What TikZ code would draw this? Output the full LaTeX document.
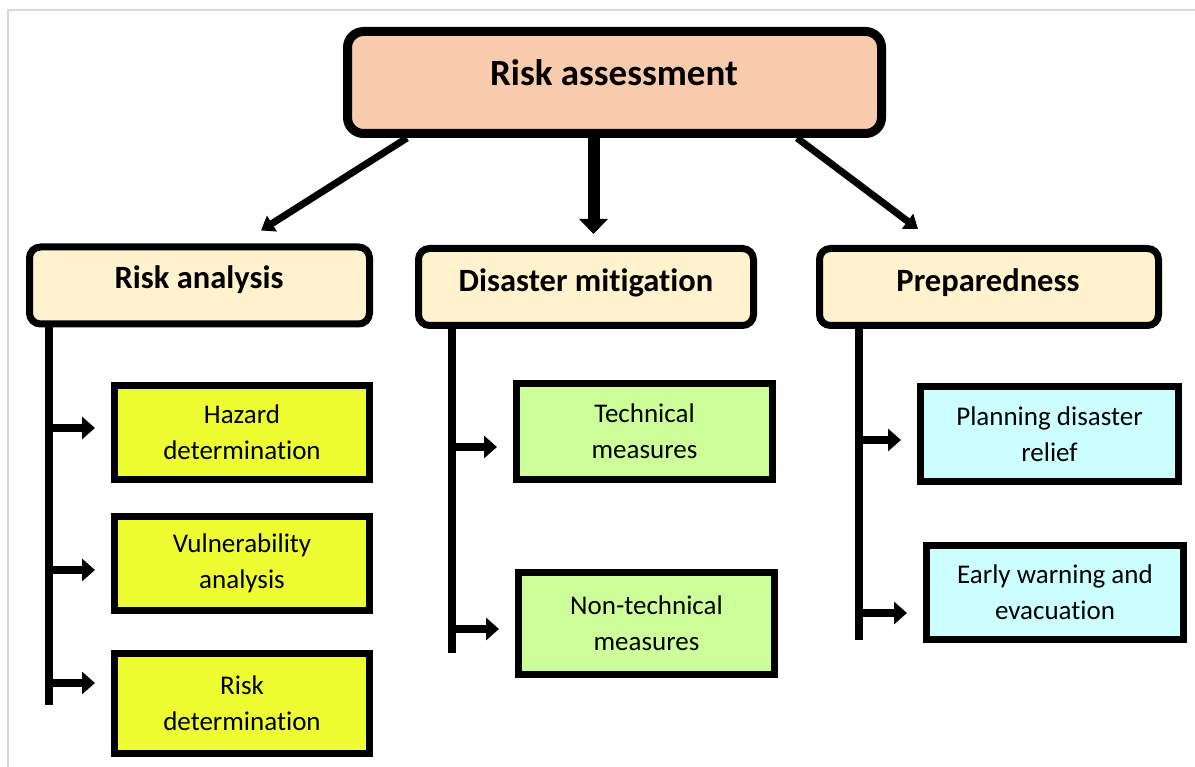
\documentclass[tikz,border=0pt]{standalone}
\usepackage{fontspec}
\setmainfont[RawFeature={-liga;-clig;-calt}]{Carlito}
\usetikzlibrary{arrows.meta}

\definecolor{topfill}{HTML}{F8CBAD}
\definecolor{headfill}{HTML}{FFF2CC}
\definecolor{yellowfill}{HTML}{EEFC32}
\definecolor{greenfill}{HTML}{CCFF99}
\definecolor{cyanfill}{HTML}{CCFFFF}
\definecolor{framegray}{HTML}{D9D9D9}

\tikzset{
  rootbox/.style={draw=black, line width=9pt, fill=topfill, rounded corners=16pt,
    inner sep=0pt, minimum width=534pt, minimum height=102pt},
  headbox/.style={draw=black, line width=7pt, fill=headfill, rounded corners=11pt,
    inner sep=0pt, minimum height=77pt},
  leafbox/.style={draw=black, line width=7pt, inner sep=0pt, align=center,
    font=\fontsize{27}{36}\selectfont},
  roottext/.style={font=\fontsize{37}{40}\selectfont\bfseries, inner sep=0pt},
  headtext/.style={font=\fontsize{32.5}{36}\selectfont\bfseries, inner sep=0pt},
  trunk/.style={line width=8pt},
  branch/.style={line width=8.5pt, -{Triangle[length=13pt,width=22pt]}, shorten >=16pt},
  diag/.style={line width=7pt, -{Triangle[length=13pt,width=18pt]}},
  vert/.style={line width=12pt, -{Triangle[length=15pt,width=28pt]}},
}

\begin{document}
\begin{tikzpicture}[x=1pt, y=-1pt]
  \useasboundingbox (0,0) rectangle (1195,767);
  \fill[white] (0,0) rectangle (1195,767);

  % thin frame along the top and left
  \draw[framegray, line width=1.5pt] (8,767) -- (8,10) -- (1195,10);

  % root
  \node[rootbox] (root) at (614.5,82.5) {};
  \node[roottext] (roott) at (614,73) {Risk assessment};

  % second level
  \node[headbox, minimum width=340pt] (ra) at (199.5,285.5) {};
  \node[headtext] (rat) at (199,280) {Risk analysis};
  \node[headbox, minimum width=335pt] (dm) at (586,287) {};
  \node[headtext] (dmt) at (586,283) {Disaster mitigation};
  \node[headbox, minimum width=339pt] (pr) at (989,287) {};
  \node[headtext] (prt) at (988,283) {Preparedness};

  % leaves
  \node[leafbox, fill=yellowfill, minimum width=255pt, minimum height=94pt] (hz) at (242,432.5) {Hazard\\determination};
  \node[leafbox, fill=yellowfill, minimum width=255pt, minimum height=94pt] (vu) at (242,563.5) {Vulnerability\\analysis};
  \node[leafbox, fill=yellowfill, minimum width=255pt, minimum height=100pt] (rd) at (242,703.5) {Risk\\determination};
  \node[leafbox, fill=greenfill, minimum width=256pt, minimum height=96pt] (tm) at (644.5,431.5) {Technical\\measures};
  \node[leafbox, fill=greenfill, minimum width=256pt, minimum height=102pt] (nt) at (646.5,623.5) {Non-technical\\measures};
  \node[leafbox, fill=cyanfill, minimum width=258pt, minimum height=95pt] (pd) at (1049.5,434) {Planning disaster\\relief};
  \node[leafbox, fill=cyanfill, minimum width=257pt, minimum height=94pt] (ew) at (1055,592.5) {Early warning and\\evacuation};

  % arrows from the root
  \draw[diag] ([xshift=-207.5pt]root.south) -- ([xshift=61.5pt,yshift=13pt]ra.north);
  \draw[vert] ([xshift=-21pt]root.south) -- ([xshift=7.5pt,yshift=11pt]dm.north);
  \draw[diag] ([xshift=182.5pt]root.south) -- ([xshift=-71pt,yshift=16pt]pr.north);

  % trunks
  \coordinate (raend) at (49,705);
  \coordinate (dmend) at (452,653);
  \coordinate (prend) at (859,640);
  \draw[trunk] (ra.south -| raend) -- (raend);
  \draw[trunk] (dm.south -| dmend) -- (dmend);
  \draw[trunk] (pr.south -| prend) -- (prend);

  % branch arrows
  \coordinate (b1) at (45,428);
  \coordinate (b2) at (45,570);
  \coordinate (b3) at (45,683);
  \coordinate (b4) at (448,447);
  \coordinate (b5) at (448,629);
  \coordinate (b6) at (855,440);
  \coordinate (b7) at (855,613);
  \draw[branch] (b1) -- (b1 -| hz.west);
  \draw[branch] (b2) -- (b2 -| vu.west);
  \draw[branch] (b3) -- (b3 -| rd.west);
  \draw[branch] (b4) -- (b4 -| tm.west);
  \draw[branch] (b5) -- (b5 -| nt.west);
  \draw[branch] (b6) -- (b6 -| pd.west);
  \draw[branch] (b7) -- (b7 -| ew.west);
\end{tikzpicture}
\end{document}
